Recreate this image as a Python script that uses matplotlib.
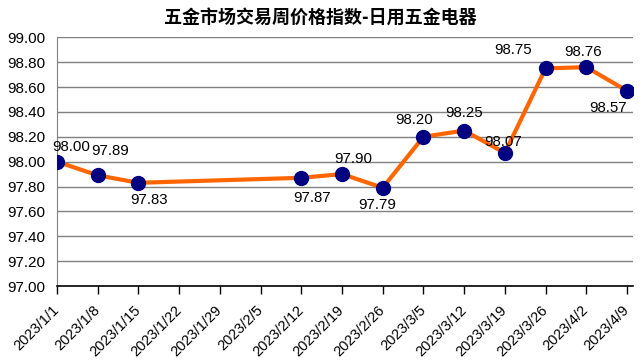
import matplotlib
matplotlib.use('Agg')
import matplotlib.pyplot as plt
import numpy as np

plt.rcParams['font.family'] = ['Liberation Sans', 'Noto Sans CJK SC', 'DejaVu Sans']

# ---- data ----
title = "五金市场交易周价格指数-日用五金电器"
dates = ["2023/1/1", "2023/1/8", "2023/1/15", "2023/1/22", "2023/1/29",
         "2023/2/5", "2023/2/12", "2023/2/19", "2023/2/26", "2023/3/5",
         "2023/3/12", "2023/3/19", "2023/3/26", "2023/4/2", "2023/4/9"]
values = [98.00, 97.89, 97.83, None, None, None, 97.87, 97.90, 97.79,
          98.20, 98.25, 98.07, 98.75, 98.76, 98.57]
yticks = [97.0, 97.2, 97.4, 97.6, 97.8, 98.0, 98.2, 98.4, 98.6, 98.8, 99.0]

# label offsets in pixels (dx, dy) relative to each point
label_offsets = [(14, 15), (12, 24), (11, -17), None, None, None,
                 (11, -20), (11, 15), (-6, -17), (-9, 17), (0, 18),
                 (-2, 11), (-33, 18), (-3, 15), (-19, -17)]

fig = plt.figure(figsize=(6.41, 3.64), dpi=100)
ax = fig.add_axes([57 / 641, 1 - 286 / 364, (633 - 57) / 641, (286 - 37.3) / 364])

x_all = np.arange(len(dates))
mask = [v is not None for v in values]
xs = x_all[mask]
ys = np.array([v for v in values if v is not None])

ax.plot(xs, ys, color='#FF6600', lw=3, zorder=3)
ax.plot(xs, ys, 'o', color='#000080', ms=10, zorder=4)

for xi, v, off in zip(x_all, values, label_offsets):
    if v is None:
        continue
    ax.annotate(f"{v:.2f}", (xi, v), xytext=off, textcoords='offset pixels',
                ha='center', va='center', fontsize=10.8, color='black', zorder=5)

ax.set_ylim(97.0, 99.0)
ax.set_xlim(0, 14 + 6 / 40.7)
ax.set_yticks(yticks)
ax.set_yticklabels([f"{t:.2f}" for t in yticks], fontsize=11)
ax.yaxis.grid(True, color='#808080', lw=1)
ax.set_axisbelow(True)
ax.tick_params(axis='y', length=0, pad=8.5)

ax.set_xticks(x_all)
ax.set_xticklabels(dates, rotation=45, ha='right', va='center',
                   rotation_mode='anchor', fontsize=10.5)
ax.tick_params(axis='x', length=6, width=1, color='black', pad=10)

for side in ['top', 'right']:
    ax.spines[side].set_visible(False)
ax.spines['left'].set_color('#808080')
ax.spines['bottom'].set_color('black')
ax.spines['bottom'].set_linewidth(1.2)

fig.text(0.5, 1 - 17 / 364, title, ha='center', va='center', fontsize=13,
         fontweight='bold', family=['Noto Sans CJK SC', 'DejaVu Sans'])

fig.savefig('out.png', dpi=100)
